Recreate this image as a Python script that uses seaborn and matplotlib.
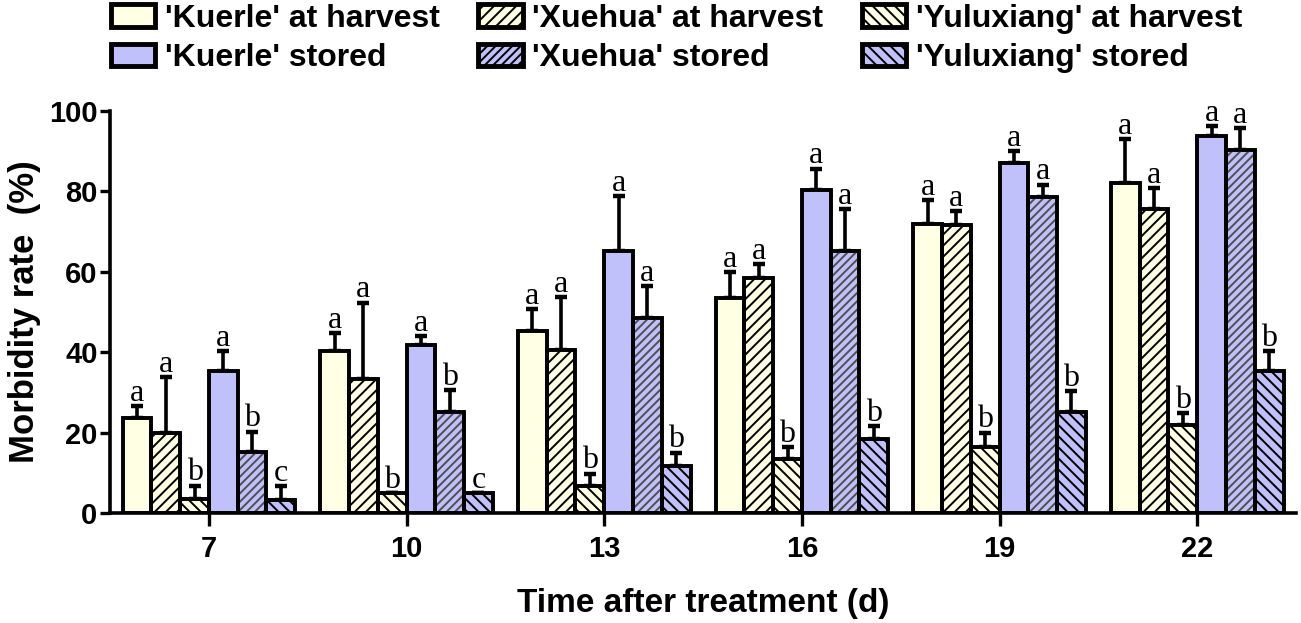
import pandas as pd
import matplotlib.pyplot as plt
import seaborn as sns
from matplotlib.patches import Patch, Rectangle

# dados
days = ['7', '10', '13', '16', '19', '22']
groups = ["'Kuerle' at harvest", "'Xuehua' at harvest", "'Yuluxiang' at harvest",
          "'Kuerle' stored", "'Xuehua' stored", "'Yuluxiang' stored"]

kuerle_harvest = [23.5, 40.2, 45.2, 53.5, 71.8, 82.0]
xuehua_harvest = [20.0, 33.3, 40.4, 58.5, 71.5, 75.5]
yuluxiang_harvest = [3.5, 5.0, 6.7, 13.5, 16.5, 21.8]
kuerle_stored = [35.3, 41.8, 65.2, 80.3, 87.0, 93.7]
xuehua_stored = [15.2, 25.0, 48.5, 65.2, 78.6, 90.3]
yuluxiang_stored = [3.3, 5.0, 11.7, 18.3, 25.2, 35.2]

kuerle_harvest_err = [3.1, 4.6, 5.4, 6.3, 6.0, 11.0]
xuehua_harvest_err = [13.7, 19.0, 13.3, 3.3, 3.5, 5.2]
yuluxiang_harvest_err = [3.3, 0.0, 3.1, 2.8, 3.5, 3.0]
kuerle_stored_err = [4.9, 2.2, 13.5, 5.3, 3.0, 2.5]
xuehua_stored_err = [5.0, 5.6, 7.9, 10.4, 3.0, 5.3]
yuluxiang_stored_err = [3.4, 0.0, 3.3, 3.2, 5.0, 5.1]

kuerle_harvest_sig = ['a', 'a', 'a', 'a', 'a', 'a']
xuehua_harvest_sig = ['a', 'a', 'a', 'a', 'a', 'a']
yuluxiang_harvest_sig = ['b', 'b', 'b', 'b', 'b', 'b']
kuerle_stored_sig = ['a', 'a', 'a', 'a', 'a', 'a']
xuehua_stored_sig = ['b', 'b', 'a', 'a', 'a', 'a']
yuluxiang_stored_sig = ['c', 'c', 'b', 'b', 'b', 'b']

values = [kuerle_harvest, xuehua_harvest, yuluxiang_harvest,
          kuerle_stored, xuehua_stored, yuluxiang_stored]
errors = [kuerle_harvest_err, xuehua_harvest_err, yuluxiang_harvest_err,
          kuerle_stored_err, xuehua_stored_err, yuluxiang_stored_err]
letters = [kuerle_harvest_sig, xuehua_harvest_sig, yuluxiang_harvest_sig,
           kuerle_stored_sig, xuehua_stored_sig, yuluxiang_stored_sig]

harvest_color = '#FFFFE3'
stored_color = '#C0C0FA'
fills = [harvest_color, harvest_color, harvest_color, stored_color, stored_color, stored_color]
hatches = [None, '///', '\\\\\\', None, '////', '\\\\\\']
hatch_colors = ['black', 'black', 'black', 'black', '#505050', 'black']

rows = []
for g, vals in zip(groups, values):
    for d, v in zip(days, vals):
        rows.append({'day': d, 'group': g, 'rate': v})
df = pd.DataFrame(rows)

sns.set_style('ticks')
plt.rcParams['font.family'] = ['Liberation Sans', 'DejaVu Sans']
plt.rcParams['hatch.linewidth'] = 1.4
for key in ['text.color', 'axes.labelcolor', 'xtick.color', 'ytick.color', 'axes.edgecolor']:
    plt.rcParams[key] = 'black'

fig = plt.figure(figsize=(13.01, 6.23), dpi=100)
ax = fig.add_axes([0.0846, 0.1766, 0.9116, 0.6457])

sns.barplot(data=df, x='day', y='rate', hue='group', order=days, hue_order=groups,
            palette=fills, width=0.873, gap=0, errorbar=None, legend=False,
            edgecolor='black', linewidth=2.6, saturation=1, ax=ax)

bar_containers = list(ax.containers)

# hachuras, barras de erro e letras
for i, cont in enumerate(bar_containers):
    centers = []
    for bar in cont.patches:
        bar.set_facecolor(fills[i])
        bar.set_zorder(2)
        x0, w, h = bar.get_x(), bar.get_width(), bar.get_height()
        if hatches[i]:
            ax.add_patch(Rectangle((x0, 0), w, h, facecolor='none', edgecolor=hatch_colors[i],
                                   lw=0, hatch=hatches[i], zorder=2.1))
        ax.add_patch(Rectangle((x0, 0), w, h, facecolor='none', edgecolor='black',
                               lw=2.6, zorder=2.2))
        centers.append(x0 + w / 2)
    ax.errorbar(centers, values[i], yerr=[[0] * len(days), errors[i]], fmt='none',
                ecolor='black', elinewidth=2.6, capsize=4, capthick=3.2, zorder=1.5)
    for c, v, e, s in zip(centers, values[i], errors[i], letters[i]):
        ax.text(c, v + e + 1.3, s, ha='center', va='baseline', fontsize=23,
                family=['Liberation Serif', 'DejaVu Serif'], zorder=3)

ax.set_xlim(-0.5, 5.5)
ax.set_ylim(0, 100)
ax.set_yticks([0, 20, 40, 60, 80, 100])
ax.set_xlabel('Time after treatment (d)', fontsize=24, fontweight='bold', labelpad=18)
ax.set_ylabel('Morbidity rate  (%)', fontsize=25, fontweight='bold', labelpad=6)
ax.tick_params(axis='y', labelsize=21, width=2.4, length=7, pad=2)
ax.tick_params(axis='x', labelsize=21, width=2.4, length=9, pad=7)
for lab in ax.get_xticklabels() + ax.get_yticklabels():
    lab.set_fontweight('bold')
for sp in ['left', 'bottom']:
    ax.spines[sp].set_linewidth(2.6)
sns.despine(ax=ax)

# legenda em 3 colunas, ordem por coluna
order = [0, 3, 1, 4, 2, 5]
handles = [Patch(facecolor=fills[k], edgecolor='black', hatch=hatches[k], linewidth=3.5,
                 joinstyle='round') for k in order]
fig.legend(handles, [groups[k] for k in order], ncol=3, loc='upper left',
           bbox_to_anchor=(0.085, 0.994), frameon=False, borderpad=0, borderaxespad=0,
           handlelength=1.4, handleheight=0.7, handletextpad=0.3, columnspacing=1.2,
           labelspacing=0.29, prop={'size': 23, 'weight': 'bold'})

fig.savefig('out.png', dpi=100)
